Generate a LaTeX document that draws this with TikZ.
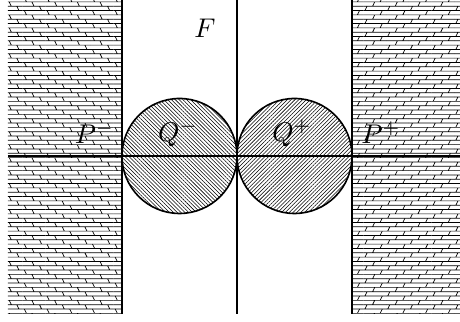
\documentclass[tikz,border=0pt]{standalone}
\usepackage{amsmath,amssymb}
\usetikzlibrary{patterns,patterns.meta}

% brick courses with slanted joints
\pgfdeclarepatternformonly{wallleft}{\pgfqpoint{-0.1pt}{-0.1pt}}{\pgfqpoint{8.5pt}{4.9pt}}{\pgfqpoint{8.4pt}{4.8pt}}{
  \pgfsetlinewidth{0.25pt}
  \pgfpathmoveto{\pgfqpoint{0pt}{0pt}}\pgfpathlineto{\pgfqpoint{8.4pt}{0pt}}
  \pgfpathmoveto{\pgfqpoint{0pt}{1.6pt}}\pgfpathlineto{\pgfqpoint{8.4pt}{1.6pt}}
  \pgfpathmoveto{\pgfqpoint{0pt}{3.2pt}}\pgfpathlineto{\pgfqpoint{8.4pt}{3.2pt}}
  \pgfpathmoveto{\pgfqpoint{0.6pt}{4.8pt}}\pgfpathlineto{\pgfqpoint{1.4pt}{3.2pt}}
  \pgfpathmoveto{\pgfqpoint{3.4pt}{3.2pt}}\pgfpathlineto{\pgfqpoint{4.2pt}{1.6pt}}
  \pgfpathmoveto{\pgfqpoint{6.2pt}{1.6pt}}\pgfpathlineto{\pgfqpoint{7.0pt}{0pt}}
  \pgfusepath{stroke}
}
\pgfdeclarepatternformonly{wallright}{\pgfqpoint{-0.1pt}{-0.1pt}}{\pgfqpoint{8.5pt}{4.9pt}}{\pgfqpoint{8.4pt}{4.8pt}}{
  \pgfsetlinewidth{0.25pt}
  \pgfpathmoveto{\pgfqpoint{0pt}{0pt}}\pgfpathlineto{\pgfqpoint{8.4pt}{0pt}}
  \pgfpathmoveto{\pgfqpoint{0pt}{1.6pt}}\pgfpathlineto{\pgfqpoint{8.4pt}{1.6pt}}
  \pgfpathmoveto{\pgfqpoint{0pt}{3.2pt}}\pgfpathlineto{\pgfqpoint{8.4pt}{3.2pt}}
  \pgfpathmoveto{\pgfqpoint{7.0pt}{4.8pt}}\pgfpathlineto{\pgfqpoint{6.2pt}{3.2pt}}
  \pgfpathmoveto{\pgfqpoint{4.2pt}{3.2pt}}\pgfpathlineto{\pgfqpoint{3.4pt}{1.6pt}}
  \pgfpathmoveto{\pgfqpoint{1.4pt}{1.6pt}}\pgfpathlineto{\pgfqpoint{0.6pt}{0pt}}
  \pgfusepath{stroke}
}

\begin{document}
\begin{tikzpicture}[x=0.13cm, y=0.13cm,
    wall/.style={draw=none},
    ball/.style={circle, draw, semithick, minimum size=11.5*0.13cm, inner sep=0pt},
    lab/.style={font=\normalsize}]

\useasboundingbox (0, 0) rectangle (46, 32.2);

% Walls
\fill[wall, pattern=wallleft] (0.8, 0.8) rectangle (12.2, 32.2);
\fill[wall, pattern=wallright] (35.2, 0.8) rectangle (46, 32.2);
\draw[semithick] (12.2, 0.8) -- (12.2, 32.2);
\draw[semithick] (35.2, 0.8) -- (35.2, 32.2);

% Midplane
\draw (23.7, 0.8) -- (23.7, 32.2);

% Balls
\node[ball, pattern={Lines[angle=-45, distance=1pt, line width=0.2pt]}] (qminus) at (17.95, 16.6) {};
\node[ball, pattern={Lines[angle=45, distance=1pt, line width=0.2pt]}] (qplus) at (29.45, 16.6) {};

% Axis
\coordinate (axl) at (0.8, 16.6);
\coordinate (axr) at (46, 16.6);
\draw (axl) -- (axr);

% Labels
\node[lab] (f) at (20.5, 29.4) {$F$};
\node[lab] (pm) at (9.45, 18.9) {$P^-$};
\node[lab] (qm) at (17.8, 18.9) {$Q^-$};
\node[lab] (qp) at (29.2, 18.9) {$Q^+$};
\node[lab] (pp) at (38.1, 18.9) {$P^+$};

\end{tikzpicture}
\end{document}
